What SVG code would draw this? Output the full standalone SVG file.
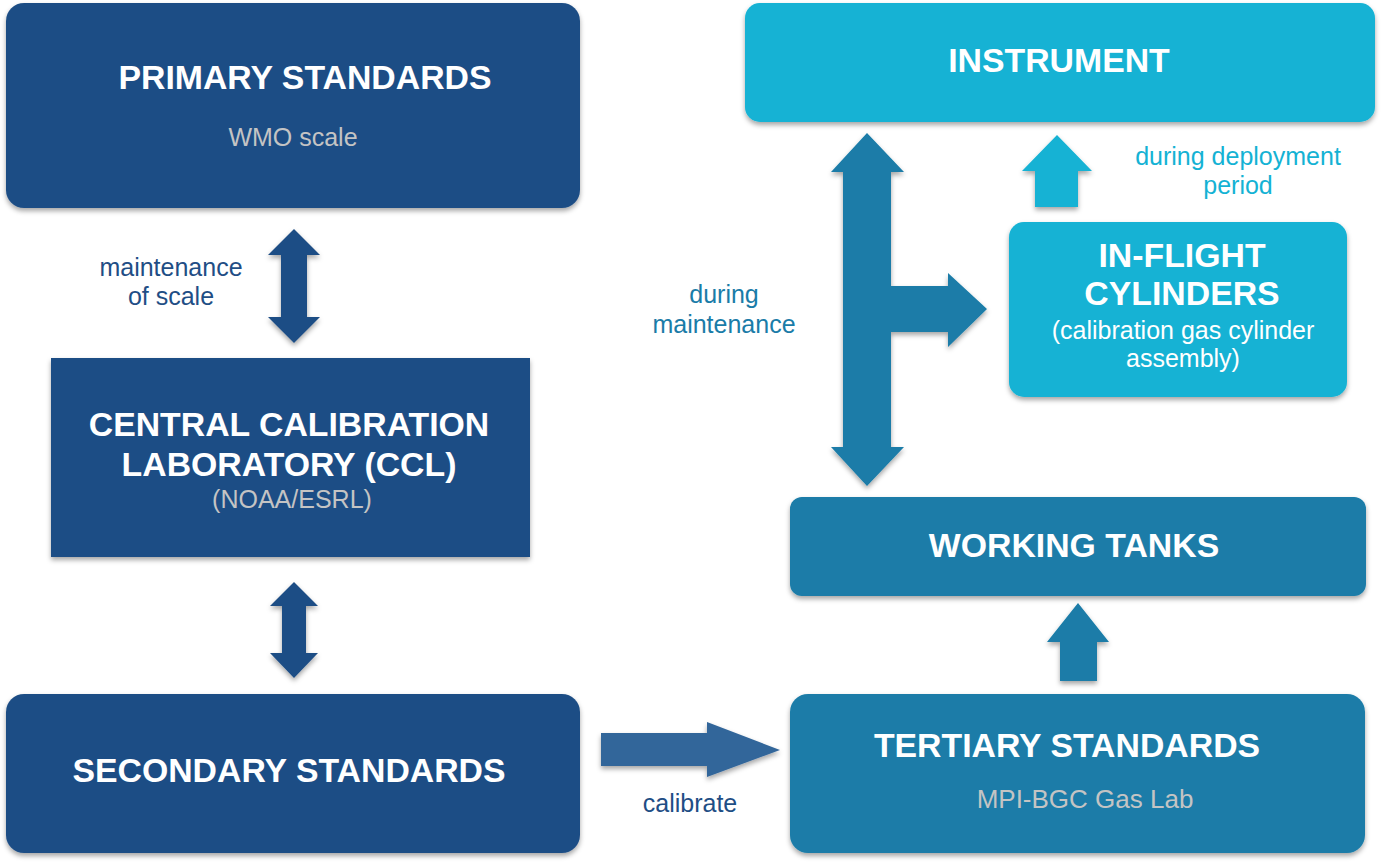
<svg xmlns="http://www.w3.org/2000/svg" width="1381" height="864" viewBox="0 0 1381 864">
<defs>
<filter id="sh" x="-5%" y="-10%" width="110%" height="125%">
<feDropShadow dx="0" dy="3" stdDeviation="2.5" flood-color="#000" flood-opacity="0.35"/>
</filter>
<style>
text{font-family:"Liberation Sans",Arial,Helvetica,sans-serif;text-anchor:middle}
.t{font-weight:bold;font-size:33.8px;fill:#fff}
.g{font-size:25px;fill:#c4c4c4}
.w{font-size:25px;fill:#fff}
.dk{fill:#1f4e85}
.md{fill:#1a7ca8}
.lt{fill:#14b2d4}
.lbd{font-size:25px;fill:#1f4e85}
.lbm{font-size:25px;fill:#1a7ca8}
.lbl{font-size:25px;fill:#14b2d4}
</style>
</defs>
<rect width="1381" height="864" fill="#fff"/>

<g id="connectors" filter="url(#sh)">
<polygon class="dk" points="294,229 320,255 307,255 307,317 320,317 294,343 268,317 281,317 281,255 268,255"/>
<polygon class="dk" points="294,582 318,606 306,606 306,653 318,653 294,678 270,653 282,653 282,606 270,606"/>
<polygon fill="#33669a" points="601,733 707,733 707,722 780,750 707,777 707,766 601,766"/>
<polygon class="md" points="867,133 904,172 891,172 891,286 948,286 948,273 987,309 948,347 948,332 891,332 891,447 904,447 867,486 831,447 843,447 843,172 831,172"/>
<polygon class="lt" points="1057,135 1092,171 1078,171 1078,207 1035,207 1035,171 1022,171"/>
<polygon class="md" points="1078,603 1109,642 1097,642 1097,681 1060,681 1060,642 1047,642"/>
</g>

<g id="labels">
<text class="lbd" x="171" y="276">maintenance</text>
<text class="lbd" x="171" y="305">of scale</text>
<text class="lbd" x="690" y="812">calibrate</text>
<text class="lbm" x="724" y="303">during</text>
<text class="lbm" x="724" y="333">maintenance</text>
<text class="lbl" x="1238" y="165">during deployment</text>
<text class="lbl" x="1238" y="194">period</text>
</g>

<g id="primary">
<rect class="dk" x="6" y="3" width="574" height="205" rx="18" filter="url(#sh)"/>
<text class="t" x="305" y="89">PRIMARY STANDARDS</text>
<text class="g" x="293" y="146">WMO scale</text>
</g>

<g id="ccl">
<rect class="dk" x="51" y="358" width="479" height="199" filter="url(#sh)"/>
<text class="t" x="289" y="436">CENTRAL CALIBRATION</text>
<text class="t" x="289" y="476">LABORATORY (CCL)</text>
<text class="g" x="292" y="508">(NOAA/ESRL)</text>
</g>

<g id="secondary">
<rect class="dk" x="6" y="694" width="574" height="159" rx="18" filter="url(#sh)"/>
<text class="t" x="289" y="782">SECONDARY STANDARDS</text>
</g>

<g id="instrument">
<rect class="lt" x="745" y="3" width="630" height="119" rx="15" filter="url(#sh)"/>
<text class="t" x="1059" y="72">INSTRUMENT</text>
</g>

<g id="inflight">
<rect class="lt" x="1009" y="222" width="338" height="175" rx="15" filter="url(#sh)"/>
<text class="t" x="1182" y="267">IN-FLIGHT</text>
<text class="t" x="1182" y="305">CYLINDERS</text>
<text class="w" x="1183" y="339">(calibration gas cylinder</text>
<text class="w" x="1183" y="367">assembly)</text>
</g>

<g id="working">
<rect class="md" x="790" y="497" width="576" height="99" rx="12" filter="url(#sh)"/>
<text class="t" x="1074" y="557">WORKING TANKS</text>
</g>

<g id="tertiary">
<rect class="md" x="790" y="694" width="575" height="159" rx="18" filter="url(#sh)"/>
<text class="t" x="1067" y="757">TERTIARY STANDARDS</text>
<text class="g" x="1085" y="808" style="font-size:26px">MPI-BGC Gas Lab</text>
</g>
</svg>
